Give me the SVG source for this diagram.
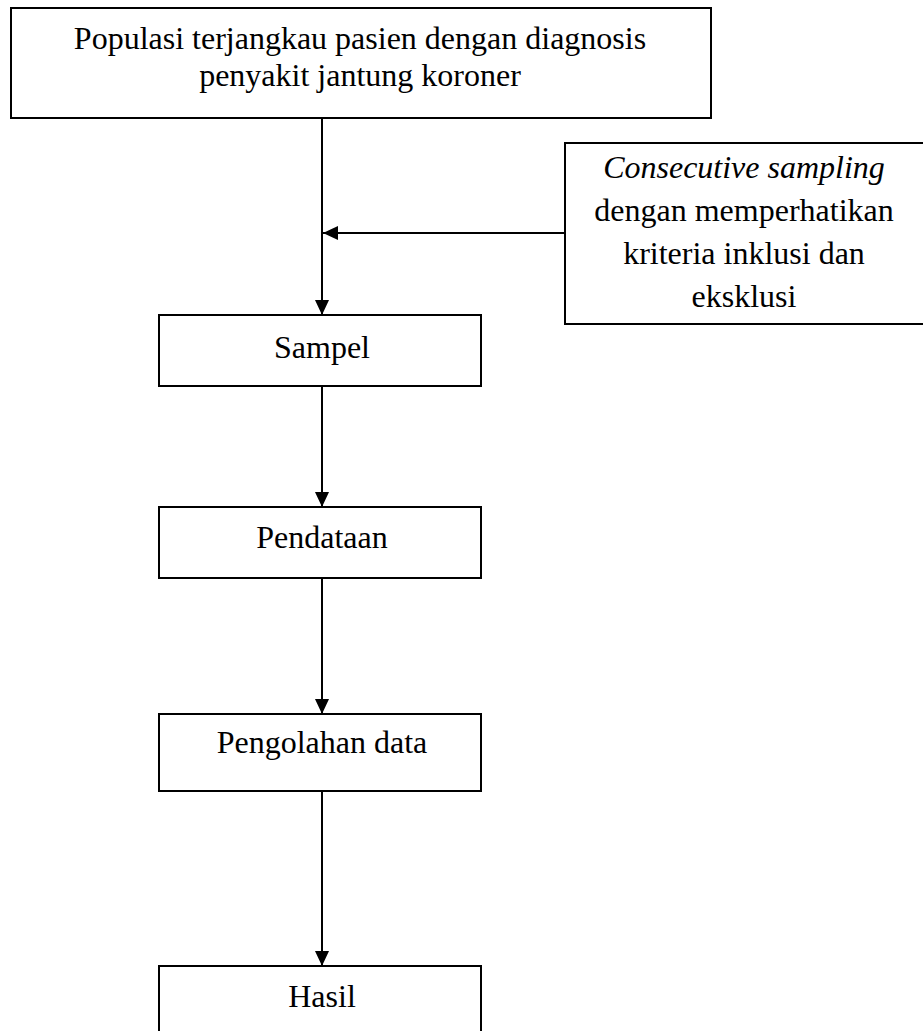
<svg xmlns="http://www.w3.org/2000/svg" width="923" height="1031" viewBox="0 0 923 1031">
<style>
.box{fill:#fff;stroke:#000;stroke-width:2}
.t{font-family:"Liberation Serif","Times New Roman",serif;font-size:32px;fill:#000;text-anchor:middle}
.i{font-style:italic}
.c{stroke:#000;stroke-width:2;fill:none;marker-end:url(#ah)}
</style>
<defs>
<marker id="ah" viewBox="0 0 15 14" refX="15" refY="7" markerWidth="15" markerHeight="14" markerUnits="userSpaceOnUse" orient="auto">
<path d="M0,0 L15,7 L0,14 z" fill="#000"/>
</marker>
</defs>
<rect width="923" height="1031" fill="#fff"/>
<g id="connectors">
<line class="c" x1="322" y1="118" x2="322" y2="315"/>
<line class="c" x1="565" y1="233" x2="323" y2="233"/>
<line class="c" x1="322" y1="386" x2="322" y2="507"/>
<line class="c" x1="322" y1="578" x2="322" y2="714"/>
<line class="c" x1="322" y1="791" x2="322" y2="966"/>
</g>
<g id="populasi">
<rect class="box" x="11" y="8" width="700" height="110"/>
<text class="t" x="360" y="49">Populasi terjangkau pasien dengan diagnosis</text>
<text class="t" x="360" y="86">penyakit jantung koroner</text>
</g>
<g id="sampling">
<rect class="box" x="565" y="143" width="370" height="181"/>
<text class="t i" x="744" y="178">Consecutive sampling</text>
<text class="t" x="744" y="221">dengan memperhatikan</text>
<text class="t" x="744" y="264">kriteria inklusi dan</text>
<text class="t" x="744" y="307">eksklusi</text>
</g>
<g id="sampel">
<rect class="box" x="159" y="315" width="322" height="71"/>
<text class="t" x="322" y="358">Sampel</text>
</g>
<g id="pendataan">
<rect class="box" x="159" y="507" width="322" height="71"/>
<text class="t" x="322" y="548">Pendataan</text>
</g>
<g id="pengolahan">
<rect class="box" x="159" y="714" width="322" height="77"/>
<text class="t" x="322" y="753">Pengolahan data</text>
</g>
<g id="hasil">
<rect class="box" x="159" y="966" width="322" height="80"/>
<text class="t" x="322" y="1007">Hasil</text>
</g>
</svg>
